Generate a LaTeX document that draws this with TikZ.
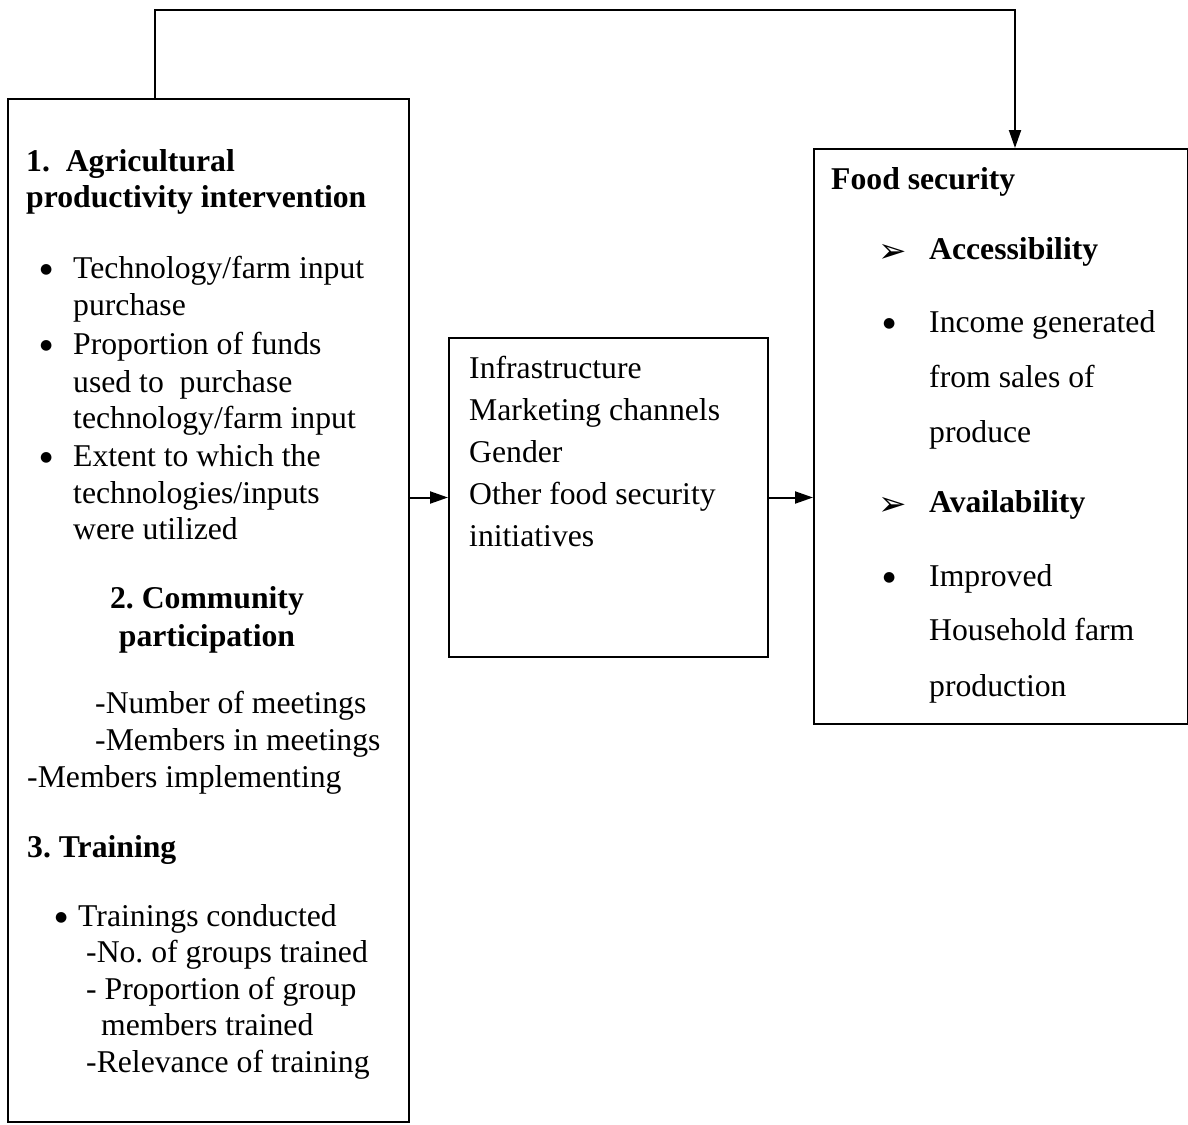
\documentclass[tikz,border=0pt]{standalone}
\usepackage{fontspec}
\setmainfont{Liberation Serif}
\newfontfamily\djv{DejaVu Sans}
\usetikzlibrary{arrows.meta}
\frenchspacing
\newcommand\txtline[4]{\node[txt] (#1) at (#2,#3) {#4};}
\newcommand\boldline[4]{\node[txt,font=\fontsize{31.7}{37}\selectfont\bfseries] (#1) at (#2,#3) {#4};}
\newcommand\bulletline[3]{\node[bul] (#1) at (#2,#3) {●};}
\tikzset{
  txt/.style={anchor=base west, inner sep=0pt, font=\fontsize{31.7}{37}\selectfont},
  bul/.style={anchor=base west, inner sep=0pt, font=\djv\fontsize{14}{14}\selectfont},
  boxnode/.style={draw, line width=2pt, anchor=north west, inner sep=0pt},
  conn/.style={line width=2pt, -{Triangle[length=18pt,width=12pt]}},
  arrowhd/.style={anchor=base west, inner sep=0pt, font=\djv\fontsize{34}{34}\selectfont},
}
\begin{document}
\begin{tikzpicture}[x=1pt,y=-1pt]
\useasboundingbox (0,0) rectangle (1188,1124);
% boxes
\node[boxnode, minimum width=401pt, minimum height=1023pt] (L) at (7,98) {};
\node[boxnode, minimum width=319pt, minimum height=319pt] (M) at (448,337) {};
\node[boxnode, minimum width=374pt, minimum height=575pt] (R) at (813,148) {};
% connectors
\coordinate (t1) at (155,98);
\coordinate (t2) at (1015,10);
\draw[conn] (t1) |- (t2) -- (R.north -| t2);
\draw[conn] (M.west -| L.east) -- (M.west);
\draw[conn] (M.east) -- (M.east -| R.west);
% left box text
\boldline{h1a}{26}{171}{1.\ \ Agricultural}
\boldline{h1b}{26}{207}{productivity intervention}
\bulletline{bu1}{40}{273}
\txtline{b1a}{73}{278}{Technology/farm input}
\txtline{b1b}{73}{315}{purchase}
\bulletline{bu2}{40}{349}
\txtline{b2a}{73}{354}{Proportion of funds}
\txtline{b2b}{73}{392}{used to\ \ purchase}
\txtline{b2c}{73}{428}{technology/farm input}
\bulletline{bu3}{40}{461}
\txtline{b3a}{73}{466}{Extent to which the}
\txtline{b3b}{73}{503}{technologies/inputs}
\txtline{b3c}{73}{539}{were utilized}
\node[txt, anchor=base, font=\fontsize{31.7}{37}\selectfont\bfseries] (h2a) at (207,608) {2. Community};
\node[txt, anchor=base, font=\fontsize{31.7}{37}\selectfont\bfseries] (h2b) at (207,646) {participation};
\txtline{c1}{95}{713}{-Number of meetings}
\txtline{c2}{95}{750}{-Members in meetings}
\txtline{c3}{27}{787}{-Members implementing}
\boldline{h3}{27}{857}{3. Training}
\bulletline{tb}{55}{921}
\txtline{t0}{78}{926}{Trainings conducted}
\txtline{t1l}{86}{962}{-No. of groups trained}
\txtline{t2l}{86}{999}{- Proportion of group}
\txtline{t3l}{101}{1035}{members trained}
\txtline{t4l}{86}{1072}{-Relevance of training}
% middle box text
\txtline{m1}{469}{378}{Infrastructure}
\txtline{m2}{469}{420}{Marketing channels}
\txtline{m3}{469}{462}{Gender}
\txtline{m4}{469}{504}{Other food security}
\txtline{m5}{469}{546}{initiatives}
% right box text
\boldline{r0}{831}{189}{Food security}
\node[arrowhd] (ah1) at (878,262) {➢};
\boldline{r1}{929}{259}{Accessibility}
\bulletline{rb1}{883}{327}
\txtline{r2}{929}{332}{Income generated}
\txtline{r3}{929}{387}{from sales of}
\txtline{r4}{929}{442}{produce}
\node[arrowhd] (ah2) at (878,515) {➢};
\boldline{r5}{929}{512}{Availability}
\bulletline{rb2}{883}{581}
\txtline{r6}{929}{586}{Improved}
\txtline{r7}{929}{640}{Household farm}
\txtline{r8}{929}{696}{production}
\end{tikzpicture}
\end{document}
